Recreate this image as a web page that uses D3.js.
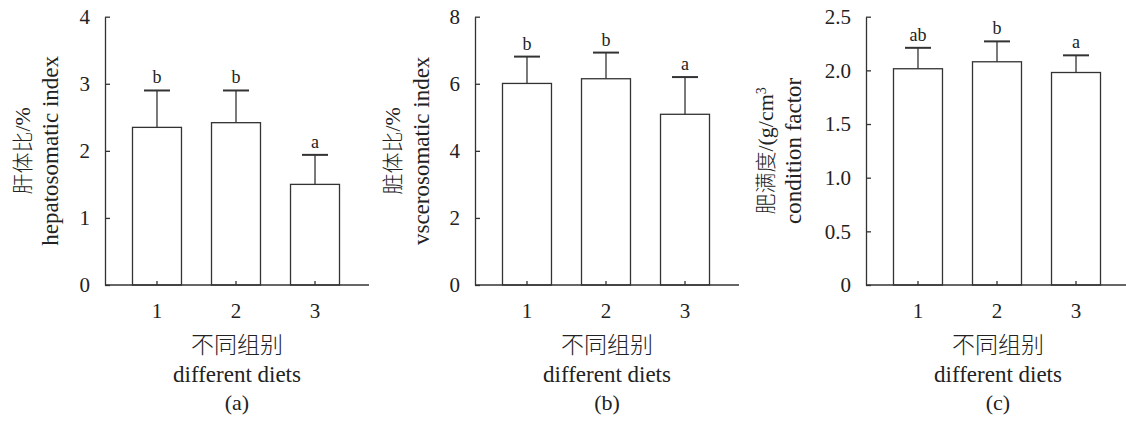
<!DOCTYPE html>
<html>

<head>
    <meta charset="UTF-8">
    <title>Diet groups - body indices</title>
    <style>
        body { margin: 0; background: #fff; }
        text { font-family: 'Liberation Serif', 'Times New Roman', serif; fill: #222; }
        .cjk { font-family: 'Noto Sans CJK SC', sans-serif; font-weight: 300; }
    </style>
</head>

<body>
    <svg></svg>
    <script src="https://d3js.org/d3.v7.min.js"></script>
    <script>
        let width = 1126,
            height = 426;

        // data
        const groups = ["1", "2", "3"];

        const hsiMean = [2.35, 2.42, 1.50];
        const hsiErr = [0.55, 0.48, 0.44];
        const hsiSig = ["b", "b", "a"];

        const vsiMean = [6.01, 6.15, 5.09];
        const vsiErr = [0.80, 0.78, 1.11];
        const vsiSig = ["b", "b", "a"];

        const cfMean = [2.015, 2.08, 1.98];
        const cfErr = [0.195, 0.19, 0.16];
        const cfSig = ["ab", "b", "a"];

        const hsiTicks = [0, 1, 2, 3, 4];
        const vsiTicks = [0, 2, 4, 6, 8];
        const cfTicks = [0, 0.5, 1.0, 1.5, 2.0, 2.5];

        const panels = [
            { left: 105, mean: hsiMean, err: hsiErr, sig: hsiSig, max: 4, ticks: hsiTicks, fmt: d3.format("d"),
              zh: "肝体比", en: "hepatosomatic index", labOff: [83, 55], tag: "(a)" },
            { left: 475, mean: vsiMean, err: vsiErr, sig: vsiSig, max: 8, ticks: vsiTicks, fmt: d3.format("d"),
              zh: "脏体比", en: "vscerosomatic index", labOff: [83, 54], tag: "(b)" },
            { left: 866, mean: cfMean, err: cfErr, sig: cfSig, max: 2.5, ticks: cfTicks, fmt: d => d === 0 ? "0" : d3.format(".1f")(d),
              zh: "肥满度", en: "condition factor", labOff: [101, 73], tag: "(c)", sup: true }
        ];

        const plotTop = 16.7, plotBottom = 285, plotW = 264;
        const ink = "#333";

        let svg = d3.select("svg")
            .attr("width", width)
            .attr("height", height);

        panels.forEach(p => {
            const g = svg.append("g").attr("transform", `translate(${p.left},0)`);

            const x = d3.scaleBand()
                .domain(groups)
                .range([0, 262])
                .paddingInner(0.38)
                .paddingOuter(0.348);

            const y = d3.scaleLinear()
                .domain([0, p.max])
                .range([plotBottom, plotTop]);

            const cx = d => x(d) + x.bandwidth() / 2;

            // bars
            g.append("g")
                .selectAll("rect")
                .data(groups)
                .enter().append("rect")
                .attr("x", d => x(d))
                .attr("width", x.bandwidth())
                .attr("y", (d, i) => y(p.mean[i]))
                .attr("height", (d, i) => plotBottom - y(p.mean[i]))
                .attr("fill", "white")
                .attr("stroke", ink)
                .attr("stroke-width", 1.3);

            // error bars (upper only)
            const eb = g.append("g").selectAll("g")
                .data(groups)
                .enter().append("g");

            eb.append("line")
                .attr("x1", cx)
                .attr("x2", cx)
                .attr("y1", (d, i) => y(p.mean[i]))
                .attr("y2", (d, i) => y(p.mean[i] + p.err[i]))
                .attr("stroke", ink)
                .attr("stroke-width", 1.3);

            eb.append("line")
                .attr("x1", d => cx(d) - 13)
                .attr("x2", d => cx(d) + 13)
                .attr("y1", (d, i) => y(p.mean[i] + p.err[i]))
                .attr("y2", (d, i) => y(p.mean[i] + p.err[i]))
                .attr("stroke", ink)
                .attr("stroke-width", 2);

            eb.append("text")
                .attr("x", cx)
                .attr("y", (d, i) => y(p.mean[i] + p.err[i]) - 7)
                .attr("text-anchor", "middle")
                .style("font-size", "18px")
                .text((d, i) => p.sig[i]);

            // y axis, ticks inward
            const yAxis = g.append("g")
                .call(d3.axisLeft(y).tickValues(p.ticks).tickFormat(p.fmt).tickSize(-5).tickSizeOuter(0).tickPadding(15));
            yAxis.selectAll("text").style("font-size", "21px").attr("fill", "#222");
            yAxis.selectAll("line, path").attr("stroke", ink).attr("stroke-width", 1.3);

            // x axis, ticks inward
            const xAxis = g.append("g")
                .attr("transform", `translate(0,${plotBottom})`)
                .call(d3.axisBottom(x).tickSize(-4).tickSizeOuter(0).tickPadding(18));
            xAxis.select(".domain").attr("d", `M0,0H${plotW}`);
            xAxis.selectAll("text").style("font-size", "21px").attr("fill", "#222");
            xAxis.selectAll("line, path").attr("stroke", ink).attr("stroke-width", 1.3);

            // y axis title, two lines
            const midY = (plotTop + plotBottom) / 2;
            const zh = g.append("text")
                .attr("transform", `translate(${-p.labOff[0]},${midY}) rotate(-90)`)
                .attr("text-anchor", "middle")
                .attr("dy", "0.35em")
                .style("font-size", "22px");
            zh.append("tspan").attr("class", "cjk").style("font-size", "21px").text(p.zh);
            if (p.sup) {
                zh.append("tspan").text("/(g/cm");
                zh.append("tspan").attr("dy", "-0.45em").style("font-size", "14px").text("3");
            } else {
                zh.append("tspan").text("/%");
            }

            g.append("text")
                .attr("transform", `translate(${-p.labOff[1]},${midY}) rotate(-90)`)
                .attr("text-anchor", "middle")
                .attr("dy", "0.35em")
                .style("font-size", "23px")
                .text(p.en);

            // x axis title and panel tag
            g.append("text")
                .attr("class", "cjk")
                .attr("x", plotW / 2)
                .attr("y", 353)
                .attr("text-anchor", "middle")
                .style("font-size", "23px")
                .text("不同组别");

            g.append("text")
                .attr("x", plotW / 2)
                .attr("y", 382)
                .attr("text-anchor", "middle")
                .style("font-size", "23px")
                .text("different diets");

            g.append("text")
                .attr("x", plotW / 2)
                .attr("y", 410)
                .attr("text-anchor", "middle")
                .style("font-size", "22px")
                .text(p.tag);
        });
    </script>
</body>

</html>
